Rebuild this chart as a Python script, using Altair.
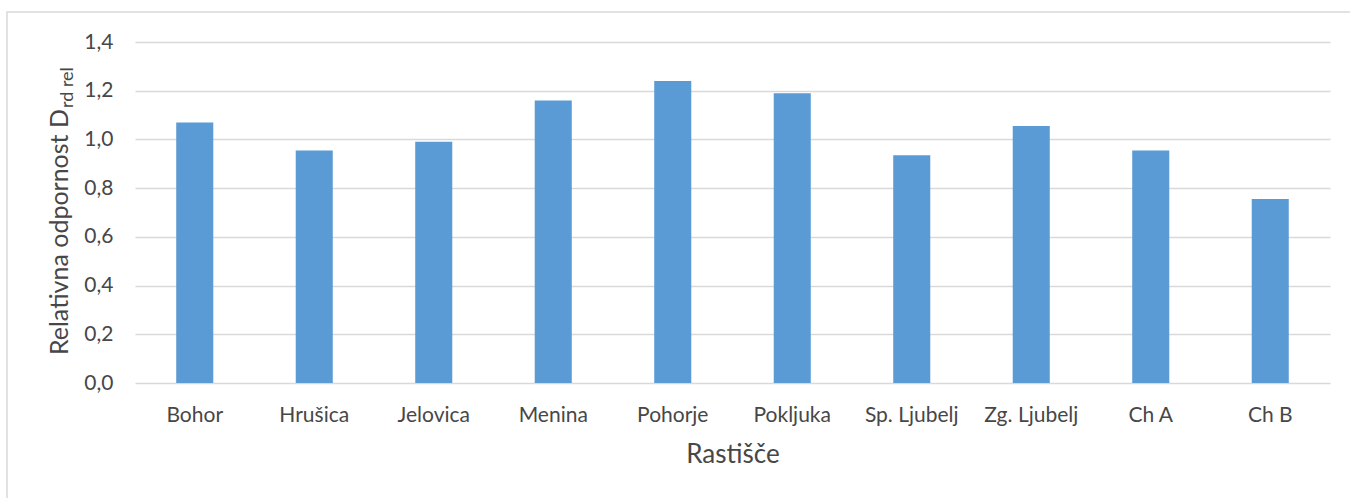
import altair as alt
import pandas as pd

# Relative resistance per growing site
sites = ["Bohor", "Hrušica", "Jelovica", "Menina", "Pohorje",
         "Pokljuka", "Sp. Ljubelj", "Zg. Ljubelj", "Ch A", "Ch B"]
values = [1.07, 0.955, 0.99, 1.16, 1.24, 1.19, 0.935, 1.055, 0.955, 0.755]
y_ticks = [0.0, 0.2, 0.4, 0.6, 0.8, 1.0, 1.2, 1.4]

x_title = "Rastišče"
y_title_main = "Relativna odpornost D"
y_title_sub = "rd rel"

FONT = "Lato"
TEXT_COLOR = "#474747"
GRID_COLOR = "#d9d9d9"
BAR_COLOR = "#5b9bd5"

W, H = 1195, 341

df = pd.DataFrame({"site": sites, "value": values})
one = pd.DataFrame({"k": [0]})

bars = alt.Chart(df).mark_bar(color=BAR_COLOR).encode(
    x=alt.X(
        "site:N",
        sort=sites,
        scale=alt.Scale(paddingInner=0.69, paddingOuter=0.345),
        axis=alt.Axis(
            title=x_title,
            labelAngle=0,
            labelFont=FONT,
            labelFontSize=21,
            labelColor=TEXT_COLOR,
            labelPadding=21,
            ticks=False,
            tickSize=0,
            domain=False,
            titleFont=FONT,
            titleFontSize=26,
            titleFontWeight="normal",
            titleColor=TEXT_COLOR,
            titlePadding=16,
        ),
    ),
    y=alt.Y(
        "value:Q",
        scale=alt.Scale(domain=[0, 1.4], nice=False),
        axis=alt.Axis(
            title=None,
            values=y_ticks,
            labelExpr="replace(format(datum.value, '.1f'), '.', ',')",
            labelFont=FONT,
            labelFontSize=21,
            labelColor=TEXT_COLOR,
            labelPadding=22,
            ticks=False,
            tickSize=0,
            domain=False,
            grid=True,
            gridColor=GRID_COLOR,
            gridWidth=1.5,
        ),
    ),
)

# Rotated y-axis title with a subscript
y_main = alt.Chart(one).mark_text(
    angle=270, align="right", baseline="alphabetic",
    font=FONT, fontSize=25, color=TEXT_COLOR,
).encode(x=alt.value(-67), y=alt.value(67), text=alt.value(y_title_main))

y_sub = alt.Chart(one).mark_text(
    angle=270, align="left", baseline="alphabetic",
    font=FONT, fontSize=18, color=TEXT_COLOR,
).encode(x=alt.value(-62), y=alt.value(66), text=alt.value(y_title_sub))

# Light outer frame around the chart
frame = alt.Chart(one).mark_rect(
    fill=None, stroke=GRID_COLOR, strokeWidth=1.5,
).encode(
    x=alt.value(-128), x2=alt.value(W + 40),
    y=alt.value(-30), y2=alt.value(H + 140),
)

chart = alt.layer(frame, bars, y_main, y_sub).properties(
    width=W,
    height=H,
    padding={"left": 135, "top": 42, "right": 20, "bottom": 115},
    autosize=alt.AutoSizeParams(type="none"),
    background="white",
).configure_view(stroke=None)

chart.save("out.html", embed_options={"renderer": "svg", "actions": False})
